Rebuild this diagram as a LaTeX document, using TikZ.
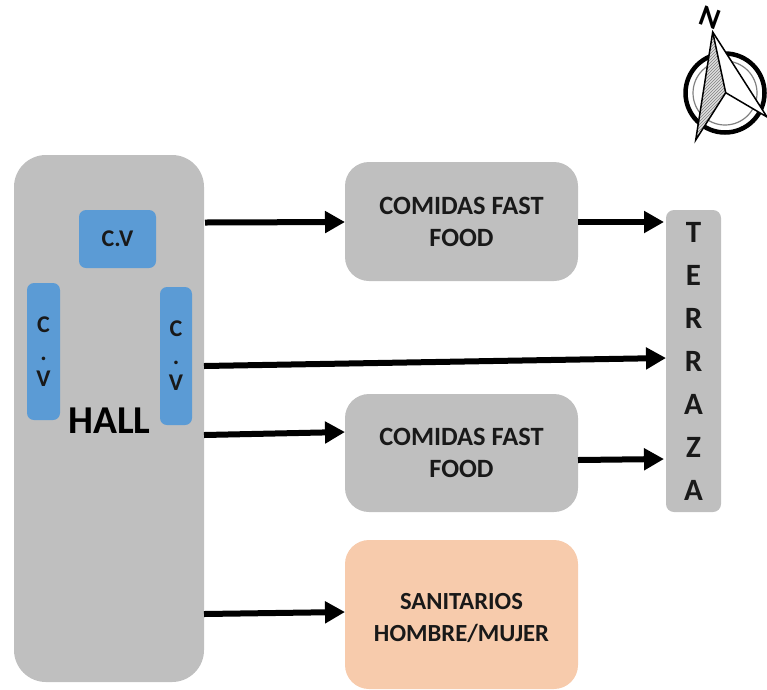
\documentclass[tikz,border=0pt]{standalone}
\usepackage{fontspec}
\setmainfont{Carlito}
\usetikzlibrary{arrows.meta, patterns}

\tikzset{
    area/.style={fill=boxgray, rounded corners=#1, align=center, inner sep=0pt, font=\bfseries\fontsize{26.4}{32}\selectfont, text=black!90},
    area/.default=24pt,
    cvbox/.style={fill=cvblue, rounded corners=7pt, align=center, inner sep=0pt, font=\bfseries\fontsize{24}{26}\selectfont, text=black!90},
    flow/.style={-{Triangle[length=20pt,width=21pt]}, line width=6pt, black},
}
\definecolor{boxgray}{RGB}{191,191,191}
\definecolor{cvblue}{RGB}{91,155,213}
\definecolor{wcpeach}{RGB}{247,203,172}

\begin{document}
\begin{tikzpicture}[x=1pt, y=-1pt]
    \useasboundingbox (0,0) rectangle (767,689);

    % compass
    \draw[line width=4.5pt] (725,93) circle (39.5);
    \draw[gray, line width=1.2pt] (725,93) circle (32);
    \fill[white] (712.7,32) -- (767,117) -- (725.7,92.7) -- (695.7,140) -- cycle;
    \fill[gray!25] (712.7,32) -- (725.7,92.7) -- (695.7,140) -- cycle;
    \fill[pattern=north east lines, pattern color=gray] (712.7,32) -- (725.7,92.7) -- (695.7,140) -- cycle;
    \draw[line width=1.5pt, line join=miter] (712.7,32) -- (767,117) -- (725.7,92.7) -- (695.7,140) -- cycle;
    \draw[line width=1.5pt] (712.7,32) -- (725.7,92.7);
    \node[rotate=-20, font=\bfseries\fontsize{30}{30}\selectfont, inner sep=0pt] (north) at (710,18) {N};

    % hall
    \node[area=32pt, minimum width=190pt, minimum height=527pt] (hall) at (109,418.5) {};
    \node[font=\bfseries\fontsize{39.5}{39.5}\selectfont, text=black, inner sep=0pt] (halllabel) at (109.5,421) {HALL};
    \node[cvbox, minimum width=77pt, minimum height=58pt] (cvtop) at (117.5,239) {C.V};
    \node[cvbox, minimum width=33pt, minimum height=137pt] (cvleft) at (43.5,351.5) {C\\[2pt].\\V};
    \node[cvbox, minimum width=32pt, minimum height=138pt] (cvright) at (176,356) {C\\[2pt].\\V};

    % rooms
    \node[area, minimum width=233pt, minimum height=119pt] (food1) at (461.5,221.5) {COMIDAS FAST\\FOOD};
    \node[area, minimum width=233pt, minimum height=118pt] (food2) at (461.5,453) {COMIDAS FAST\\FOOD};
    \node[area, fill=wcpeach, minimum width=233pt, minimum height=149pt] (wc) at (461.5,614.5) {};
    \node[align=center, inner sep=0pt, font=\bfseries\fontsize{24.6}{32}\selectfont, text=black!90] (wclabel) at (461.5,617.5) {SANITARIOS\\HOMBRE/MUJER};
    \node[area=8pt, minimum width=55pt, minimum height=302pt, font=\bfseries\fontsize{31}{43}\selectfont] (terraza) at (693.5,361) {T\\E\\R\\R\\A\\Z\\A};

    % arrows
    \coordinate (h1) at (205,222.5);
    \coordinate (h2) at (204,366);
    \coordinate (h3) at (204,435);
    \coordinate (h4) at (204,614);
    \coordinate (f1) at (345,222);
    \coordinate (f2) at (345,432);
    \coordinate (w1) at (345,612);
    \coordinate (t1) at (664,222);
    \coordinate (t2) at (666,358);
    \coordinate (t3) at (664,459);
    \coordinate (o1) at (578,222);
    \coordinate (o2) at (578,460);
    \draw[flow] (h1) -- (f1);
    \draw[flow] (h2) -- (t2);
    \draw[flow] (h3) -- (f2);
    \draw[flow] (h4) -- (w1);
    \draw[flow] (o1) -- (t1);
    \draw[flow] (o2) -- (t3);
\end{tikzpicture}
\end{document}
